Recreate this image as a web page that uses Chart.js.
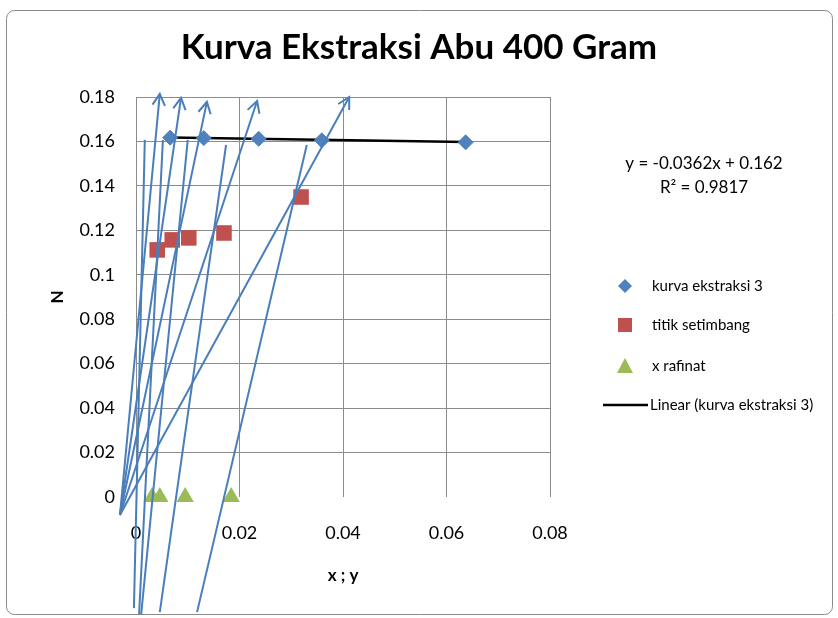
<!DOCTYPE html>
<html>
<head>
<meta charset="utf-8">
<script src="https://cdn.jsdelivr.net/npm/chart.js@4.4.1/dist/chart.umd.min.js"></script>
<style>
  body { margin: 0; background: #fff; }
  canvas { display: block; }
</style>
</head>
<body>
<canvas id="ekstraksiChart" width="838" height="618"></canvas>
<script>
// kurva ekstraksi 3
const kurvaX = [0.0066, 0.0131, 0.0237, 0.0359, 0.0637];
const kurvaY = [0.1617, 0.1615, 0.1612, 0.1605, 0.1596];
// titik setimbang
const setimbangX = [0.0041, 0.0070, 0.0102, 0.0170, 0.0319];
const setimbangY = [0.1112, 0.1157, 0.1166, 0.1188, 0.1350];
// x rafinat
const rafinatX = [0.0031, 0.0046, 0.0095, 0.0184];
const rafinatY = [0, 0, 0, 0];
// Linear (kurva ekstraksi 3)
const trendX = [0.0066, 0.0637];
const trendY = [0.1618, 0.1597];
// arrows from the delta point
const deltaX = -0.0031, deltaY = -0.0081;
const arrowX = [0.0046, 0.0087, 0.0137, 0.0234, 0.0412];
const arrowY = [0.1814, 0.1796, 0.1778, 0.1782, 0.1800];
// lines from below the axis up to the extract curve
const tieX0 = [-0.0004, 0.0006, 0.0010, 0.0046, 0.0118];
const tieY0 = [-0.0500, -0.0527, -0.0527, -0.0518, -0.0518];
const tieX1 = [0.0017, 0.0052, 0.0100, 0.0174, 0.0330];
const tieY1 = [0.1607, 0.1607, 0.1607, 0.1584, 0.1584];

const xTicks = [0, 0.02, 0.04, 0.06, 0.08];
const yTicks = [0, 0.02, 0.04, 0.06, 0.08, 0.1, 0.12, 0.14, 0.16, 0.18];

const blue = '#4a7ebb';
const pts = (xs, ys) => xs.map((x, i) => ({ x: x, y: ys[i] }));

const shapeSets = [];
arrowX.forEach((x, i) => {
    shapeSets.push({
        label: 'arrow' + i,
        data: [{ x: deltaX, y: deltaY }, { x: x, y: arrowY[i] }],
        showLine: true, borderColor: blue, borderWidth: 2,
        pointRadius: 0, clip: false, order: 0, arrow: true
    });
});
tieX0.forEach((x, i) => {
    shapeSets.push({
        label: 'tie' + i,
        data: [{ x: x, y: tieY0[i] }, { x: tieX1[i], y: tieY1[i] }],
        showLine: true, borderColor: blue, borderWidth: 2,
        pointRadius: 0, clip: false, order: 0
    });
});

// frame + white background
const framePlugin = {
    id: 'frame',
    beforeDraw(chart) {
        const c = chart.ctx;
        c.save();
        c.fillStyle = '#fff';
        c.fillRect(0, 0, chart.width, chart.height);
        c.strokeStyle = '#8a8a8a';
        c.lineWidth = 1;
        c.beginPath();
        c.roundRect(6.5, 10.5, 826, 604, 8);
        c.stroke();
        c.restore();
    }
};

// open arrow heads at the end of the arrow lines
const arrowPlugin = {
    id: 'arrowHeads',
    afterDatasetsDraw(chart) {
        const c = chart.ctx;
        chart.data.datasets.forEach((ds, i) => {
            if (!ds.arrow) return;
            const els = chart.getDatasetMeta(i).data;
            const a = els[0], b = els[1];
            const ang = Math.atan2(b.y - a.y, b.x - a.x);
            const len = 13, spread = 0.5;
            c.save();
            c.strokeStyle = ds.borderColor;
            c.lineWidth = 2;
            c.beginPath();
            c.moveTo(b.x - len * Math.cos(ang - spread), b.y - len * Math.sin(ang - spread));
            c.lineTo(b.x, b.y);
            c.lineTo(b.x - len * Math.cos(ang + spread), b.y - len * Math.sin(ang + spread));
            c.stroke();
            c.restore();
        });
    }
};

// equation text and legend on the right
const sidePlugin = {
    id: 'side',
    afterDraw(chart) {
        const c = chart.ctx;
        c.save();
        c.fillStyle = '#000';
        c.textBaseline = 'middle';
        c.textAlign = 'center';
        c.font = '17px Lato';
        c.fillText('y = -0.0362x + 0.162', 704, 164);
        c.fillText('R² = 0.9817', 704, 188);

        c.textAlign = 'left';
        c.font = '15px Lato';
        // diamond
        c.fillStyle = '#4F81BD';
        c.beginPath();
        c.moveTo(625, 279); c.lineTo(632, 286); c.lineTo(625, 293); c.lineTo(618, 286);
        c.closePath(); c.fill();
        // square
        c.fillStyle = '#C0504D';
        c.fillRect(618, 318, 14, 14);
        // triangle
        c.fillStyle = '#9BBB59';
        c.beginPath();
        c.moveTo(625, 358); c.lineTo(633, 373); c.lineTo(617, 373);
        c.closePath(); c.fill();
        // line
        c.strokeStyle = '#000';
        c.lineWidth = 2.5;
        c.beginPath(); c.moveTo(603, 405); c.lineTo(648, 405); c.stroke();

        c.fillStyle = '#000';
        c.fillText('kurva ekstraksi 3', 652, 286);
        c.fillText('titik setimbang', 652, 325);
        c.fillText('x rafinat', 652, 366);
        c.fillText('Linear (kurva ekstraksi 3)', 650, 405);
        c.restore();
    }
};

const ctx = document.getElementById('ekstraksiChart').getContext('2d');
const ekstraksiChart = new Chart(ctx, {
    type: 'scatter',
    data: {
        datasets: shapeSets.concat([
            {
                label: 'kurva ekstraksi 3',
                data: pts(kurvaX, kurvaY),
                pointStyle: 'rectRot', pointRadius: 7.5,
                backgroundColor: '#4F81BD', borderColor: '#4F81BD', order: 1
            },
            {
                label: 'titik setimbang',
                data: pts(setimbangX, setimbangY),
                pointStyle: 'rect', pointRadius: 11,
                backgroundColor: '#C0504D', borderColor: '#C0504D', borderWidth: 0, order: 2
            },
            {
                label: 'x rafinat',
                data: pts(rafinatX, rafinatY),
                pointStyle: 'triangle', pointRadius: 10,
                backgroundColor: '#9BBB59', borderColor: '#9BBB59', borderWidth: 0,
                clip: false, order: 3
            },
            {
                label: 'Linear (kurva ekstraksi 3)',
                data: pts(trendX, trendY),
                showLine: true, borderColor: '#000', borderWidth: 2.5,
                pointRadius: 0, order: 4
            }
        ])
    },
    options: {
        responsive: false,
        animation: false,
        events: [],
        layout: { padding: 0 },
        scales: {
            x: {
                type: 'linear',
                min: 0, max: 0.08,
                afterBuildTicks: s => { s.ticks = xTicks.map(v => ({ value: v })); },
                afterFit: s => { s.height = 121; },
                ticks: {
                    padding: 25,
                    color: '#000',
                    font: { family: 'Lato', size: 18 },
                    callback: v => String(+v.toFixed(2))
                },
                grid: { color: '#8c8c8c', lineWidth: 1, drawTicks: false },
                border: { display: false },
                title: {
                    display: true, text: 'x ; y', color: '#000',
                    font: { family: 'Lato', size: 17, weight: 'bold' },
                    padding: { top: 0, bottom: 32 }
                }
            },
            y: {
                type: 'linear',
                min: 0, max: 0.18,
                afterBuildTicks: s => { s.ticks = yTicks.map(v => ({ value: v })); },
                afterFit: s => { s.width = 136; },
                ticks: {
                    padding: 21,
                    color: '#000',
                    font: { family: 'Lato', size: 18 },
                    callback: v => String(+v.toFixed(2))
                },
                grid: {
                    color: c => (c.tick && c.tick.value === 0) ? 'rgba(0,0,0,0)' : '#8c8c8c',
                    lineWidth: 1, drawTicks: false
                },
                border: { display: true, color: '#8c8c8c' },
                title: {
                    display: true, text: 'N', color: '#000',
                    font: { family: 'Lato', size: 17, weight: 'bold' },
                    padding: { top: 47, bottom: 0 }
                }
            },
            // empty right-hand scale that keeps room for the legend
            side: {
                type: 'linear',
                position: 'right',
                display: true,
                afterFit: s => { s.width = 288; },
                ticks: { display: false },
                grid: { display: false, drawTicks: false },
                border: { display: false }
            }
        },
        plugins: {
            legend: { display: false },
            tooltip: { enabled: false },
            title: {
                display: true,
                text: 'Kurva Ekstraksi Abu 400 Gram',
                color: '#000',
                font: { family: 'Lato', size: 35, weight: 'bold' },
                padding: { top: 27, bottom: 28 }
            }
        }
    },
    plugins: [framePlugin, arrowPlugin, sidePlugin]
});
</script>
</body>
</html>
